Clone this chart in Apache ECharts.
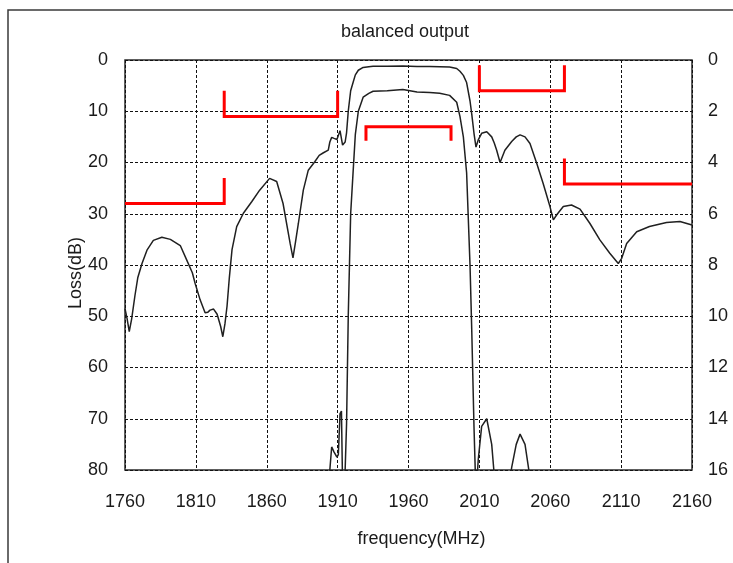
<!DOCTYPE html>
<html><head><meta charset="utf-8">
<script src="https://cdn.jsdelivr.net/npm/echarts@6/dist/echarts.min.js"></script>
<style>html,body{margin:0;padding:0;background:#fff}#c{width:733px;height:563px}</style>
</head><body><div id="c"></div>
<script>
// ---- data ----
const freqMHz = [1760,1761.5,1763,1764.7,1767,1769,1772,1775.5,1780,1786,1792,1799,1803.5,1807.5,1809.5,1813,1816.5,1818.5,1820,1822.5,1825,1827.5,1829,1830.5,1832,1833.6,1835.5,1838.8,1843.5,1849.5,1855,1862,1867,1871.5,1876.5,1878.5,1880.3,1882.3,1885.8,1889.3,1894,1897,1900,1903.4,1904.5,1905.8,1907.5,1909.5,1910.5,1911.7,1912.7,1913.5,1914.5,1915.3,1916.3,1917.5,1919.2,1921.1,1922.5,1924.6,1928,1932,1935,1945,1956,1966,1975,1982,1989,1994,1996.3,1998.7,2001,2003.4,2004.6,2006.2,2007.6,2009.2,2011.6,2015.2,2018.7,2020.5,2022.2,2024.6,2026,2028,2032.8,2036,2038.7,2042.2,2045.7,2050.5,2055,2059.8,2062.2,2064.6,2069.2,2075,2081,2088,2095,2102,2108,2110.4,2113.9,2121,2130,2142,2151.5,2160];
const lossDb = [48.5,50.5,53,50.5,46,42.5,39.7,37.1,35.2,34.6,35,36.2,39,41.5,43.6,46.8,49.3,49.2,48.8,48.6,49.6,52,54,51.5,48,42.5,37,32.5,29.9,27.6,25.4,23.1,23.7,28,35.8,38.6,35.5,31.9,25.4,21.5,19.8,18.6,18.1,17.6,16,15.1,15.3,15.5,15.4,13.8,13.7,16.6,16.4,16,14.2,10,6,4.2,2.9,2,1.45,1.3,1.22,1.2,1.15,1.25,1.27,1.3,1.38,1.65,2.2,3,4.4,8,10.5,14.3,17,15.6,14.3,14,15,16.2,17.6,20,19.8,17.6,15.9,15,14.6,15,16.3,20.2,24.1,28.6,31.2,30.2,28.6,28.3,29.1,31.9,35.1,37.7,39.7,38.7,35.8,33.5,32.5,31.7,31.5,32.2];

// spec masks (left axis, dB)
const maskLeftSegments = [
  [[1760,28],[1830,28],[1830,23]],
  [[1830,6],[1830,11],[1910,11],[1910,6]],
  [[2010,1],[2010,6],[2070,6],[2070,1]],
  [[2070,19.2],[2070,24.2],[2160,24.2]]
];
// passband mask (right axis, dB)
const maskRightSegments = [
  [[1930,3.15],[1930,2.6],[1990,2.6],[1990,3.15]]
];

const freqStart = 1760, freqEnd = 2160, freqStep = 50;
const lossLeftMax = 80, lossLeftStep = 10;
const lossRightMax = 16, lossRightStep = 2;

const titleText = 'balanced output';
const xName = 'frequency(MHz)';
const yName = 'Loss(dB)';

// ---- chart ----
const FONT = 'Liberation Sans, Arial, sans-serif';
const TXT = '#1a1a1a';
const toX = f => f - freqStart;
const curve = freqMHz.map((f, i) => [toX(f), lossDb[i]]);

const series = [
  {type:'line', yAxisIndex:0, data:curve, showSymbol:false, symbol:'none', clip:true,
   lineStyle:{color:'#202020', width:1.5}, z:3},
  {type:'line', yAxisIndex:1, data:curve, showSymbol:false, symbol:'none', clip:true,
   lineStyle:{color:'#202020', width:1.5}, z:3}
];
maskLeftSegments.forEach(seg => series.push({
  type:'line', yAxisIndex:0, data:seg.map(p => [toX(p[0]), p[1]]), symbol:'none', clip:false,
  lineStyle:{color:'#ff0000', width:3, cap:'butt', join:'miter'}, z:4
}));
maskRightSegments.forEach(seg => series.push({
  type:'line', yAxisIndex:1, data:seg.map(p => [toX(p[0]), p[1]]), symbol:'none', clip:false,
  lineStyle:{color:'#ff0000', width:3, cap:'butt', join:'miter'}, z:4
}));

const chart = echarts.init(document.getElementById('c'), null, {renderer:'canvas'});
chart.setOption({
  animation:false,
  backgroundColor:'#fff',
  grid:{left:125, right:41, top:60, bottom:93, show:true, borderColor:'#2a2a2a', borderWidth:1.5, backgroundColor:'transparent'},
  graphic:[
    {type:'rect', shape:{x:8, y:10, width:800, height:700}, style:{fill:'none', stroke:'#3a3a3a', lineWidth:1.5}, silent:true},
    {type:'text', x:405, y:32, style:{text:titleText, font:'18px ' + FONT, fill:TXT, align:'center', verticalAlign:'middle'}}
  ],
  xAxis:{
    type:'value', min:0, max:freqEnd - freqStart, interval:freqStep,
    name:xName, nameLocation:'middle', nameGap:60, nameMoveOverlap:false,
    nameTextStyle:{fontSize:18, fontFamily:FONT, color:TXT, padding:[0,0,0,26]},
    axisLine:{show:false}, axisTick:{show:false},
    axisLabel:{fontSize:18, fontFamily:FONT, color:TXT, margin:23, formatter:v => String(v + freqStart)},
    splitLine:{show:true, lineStyle:{color:'#111', width:1, type:[3,2]}}
  },
  yAxis:[
    {type:'value', inverse:true, min:0, max:lossLeftMax, interval:lossLeftStep, position:'left',
     name:yName, nameLocation:'middle', nameGap:40, nameRotate:90, nameMoveOverlap:false,
     nameTextStyle:{fontSize:18, fontFamily:FONT, color:TXT, padding:[0,16,0,0]},
     axisLine:{show:false}, axisTick:{show:false},
     axisLabel:{fontSize:18, fontFamily:FONT, color:TXT, margin:17, padding:[3,0,0,0]},
     splitLine:{show:true, lineStyle:{color:'#111', width:1, type:[3,2]}}},
    {type:'value', inverse:true, min:0, max:lossRightMax, interval:lossRightStep, position:'right',
     axisLine:{show:false}, axisTick:{show:false},
     axisLabel:{fontSize:18, fontFamily:FONT, color:TXT, margin:16, padding:[3,0,0,0]},
     splitLine:{show:false}}
  ],
  series:series
});
</script></body></html>
